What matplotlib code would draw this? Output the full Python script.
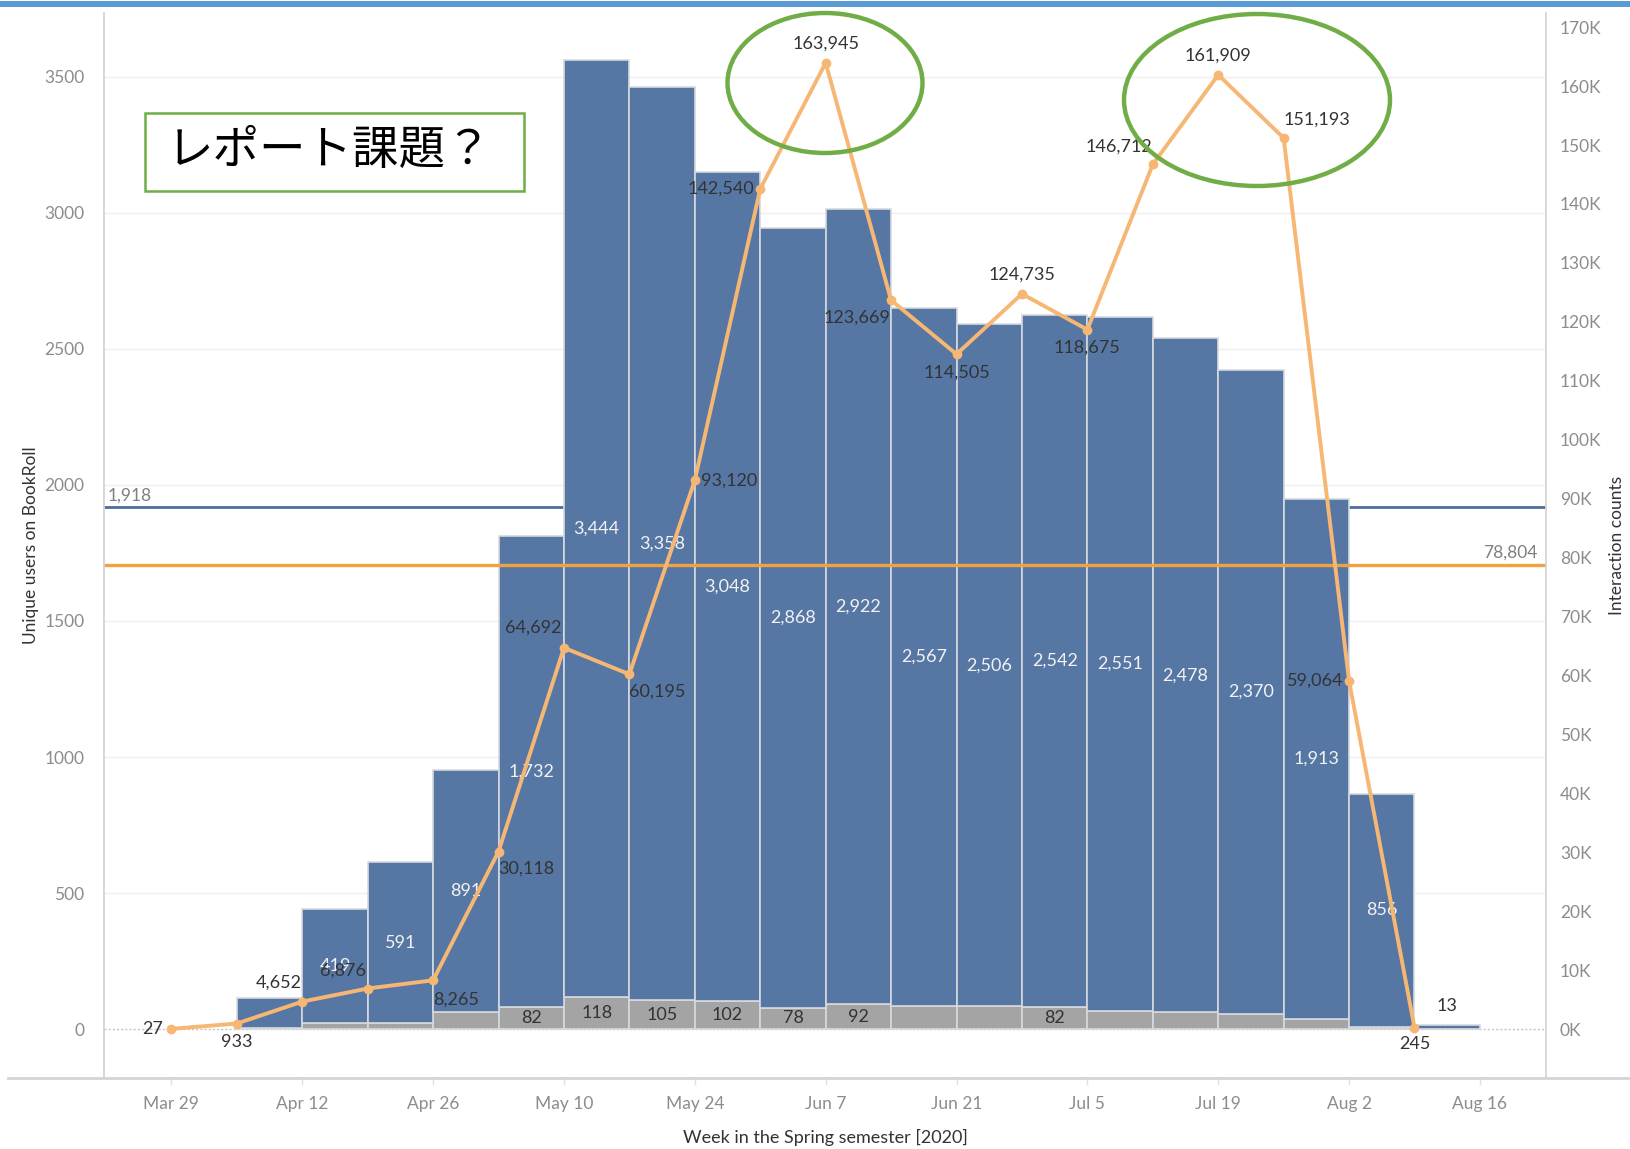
"""
BookRoll weekly usage, Spring 2020: unique users (stacked bars, left axis)
and interaction counts (line, right axis), Tableau-like look with
hand-drawn green highlights.
"""
import matplotlib
matplotlib.use("Agg")
import matplotlib.pyplot as plt
from matplotlib.patches import Ellipse, Rectangle
from matplotlib.ticker import FixedLocator, FuncFormatter
import numpy as np

plt.rcParams["font.family"] = ["Lato", "Noto Sans CJK JP", "DejaVu Sans"]

# ---- data -----------------------------------------------------------------
weeks = ["Mar 29", "Apr 5", "Apr 12", "Apr 19", "Apr 26", "May 3", "May 10",
         "May 17", "May 24", "May 31", "Jun 7", "Jun 14", "Jun 21", "Jun 28",
         "Jul 5", "Jul 12", "Jul 19", "Jul 26", "Aug 2", "Aug 9", "Aug 16"]

# interaction counts, Mar 29 .. Aug 9
interactions = [27, 933, 4652, 6876, 8265, 30118, 64692, 60195, 93120, 142540,
                163945, 123669, 114505, 124735, 118675, 146712, 161909,
                151193, 59064, 245]

# unique users, Apr 5 .. Aug 9 (blue = main segment, gray = lower segment)
users_blue = [109, 419, 591, 891, 1732, 3444, 3358, 3048, 2868, 2922, 2567,
              2506, 2542, 2551, 2478, 2370, 1913, 856, 13]
users_gray = [5, 22, 22, 61, 82, 118, 105, 102, 78, 92, 84, 84, 82, 66, 61,
              54, 37, 8, 0]

users_ref = 1918          # reference line, left axis
interactions_ref = 78804  # reference line, right axis
note_text = "レポート課題？"

# ---- style ------------------------------------------------------------------
BLUE = "#5677A4"
GRAY = "#A4A4A4"
EDGE = "#D6D9DE"
ORANGE_LINE = "#F6B774"
ORANGE_REF = "#F0A23E"
BLUE_REF = "#4C6E9E"
GREEN = "#70AD47"
TICK_C = "#8C8C8C"
TEXT_C = "#333333"
AXIS_C = "#D4D4D4"

W, H = 1630, 1149
fig = plt.figure(figsize=(W / 100, H / 100), dpi=100)

# plot area in pixels: x 104..1546, y 13..1078 (from top)
L, R, T, B = 104, 1546, 13, 1078
ax = fig.add_axes([L / W, 1 - B / H, (R - L) / W, (B - T) / H])
ax2 = ax.twinx()

ax.set_xlim(-1.03, 21.01)
ax.set_ylim(-180, 3735)
ax2.set_ylim(-8310, 172400)

for a in (ax, ax2):
    for s in a.spines.values():
        s.set_visible(False)

# gridlines + dotted zero line
for v in range(500, 3501, 500):
    ax.axhline(v, color="#EFEFEF", lw=1.0, zorder=0)
ax.axhline(0, color="#C4C4C4", lw=1.0, ls=(0, (1.5, 1.5)), zorder=0.5)

# blue reference line sits behind bars
ax.axhline(users_ref, color=BLUE_REF, lw=2.0, zorder=1)
ax.annotate(f"{users_ref:,}", xy=(0, users_ref), xycoords=("axes fraction", "data"),
            xytext=(4, 4), textcoords="offset pixels", ha="left", va="bottom",
            fontsize=12.5, color="#7F7F7F")

# stacked bars
bx = np.arange(1, 1 + len(users_blue))
blue = np.array(users_blue)
gray = np.array(users_gray)
ax.bar(bx, gray, width=1, align="edge", color=GRAY, edgecolor=EDGE,
       linewidth=1.2, zorder=2)
ax.bar(bx, blue, bottom=gray, width=1, align="edge", color=BLUE,
       edgecolor=EDGE, linewidth=1.2, zorder=2)

show_gray = {"May 3", "May 10", "May 17", "May 24", "May 31", "Jun 7", "Jun 28"}
for i, (b, g) in enumerate(zip(users_blue, users_gray)):
    wk = weeks[bx[i]]
    if b >= 300:
        ax.text(bx[i] + 0.5, g + b / 2, f"{b:,}", ha="center", va="center",
                fontsize=13, color="#F2F2F2", zorder=3)
    elif b < 50:
        ax.annotate(f"{b:,}", xy=(bx[i] + 0.5, g + b), xytext=(0, 19),
                    textcoords="offset pixels", ha="center", va="center",
                    fontsize=13, color=TEXT_C, zorder=3)
    if wk in show_gray:
        ax.text(bx[i] + 0.5, g / 2, f"{g:,}", ha="center", va="center",
                fontsize=13, color=TEXT_C, zorder=3)

# orange reference line + interaction line on right axis
ax2.axhline(interactions_ref, color=ORANGE_REF, lw=2.4, zorder=1)
ax2.annotate(f"{interactions_ref:,}", xy=(1, interactions_ref),
             xycoords=("axes fraction", "data"), xytext=(-8, 4),
             textcoords="offset pixels", ha="right", va="bottom",
             fontsize=12.5, color="#7F7F7F")

lx = np.arange(len(interactions))
ax2.plot(lx, interactions, color=ORANGE_LINE, lw=2.8, marker="o", ms=6,
         mec=ORANGE_LINE, mfc=ORANGE_LINE, zorder=3, solid_joinstyle="round")

# label offsets (pixels) for each point of the line
lab_off = [(-8, 0, "right"), (0, -18, "center"), (-23, 19, "center"),
           (-25, 18, "center"), (23, -19, "center"), (28, -17, "center"),
           (-31, 20, "center"), (28, -17, "center"), (6, 0, "left"),
           (-6, 0, "right"), (0, 19, "center"), (-34, -17, "center"),
           (0, -18, "center"), (0, 19, "center"), (0, -18, "center"),
           (-34, 18, "center"), (0, 19, "center"), (33, 18, "center"),
           (-6, 0, "right"), (0, -16, "center")]
for xi, v, (dx, dy, ha) in zip(lx, interactions, lab_off):
    ax2.annotate(f"{v:,}", xy=(xi, v), xytext=(dx, dy),
                 textcoords="offset pixels", ha=ha, va="center",
                 fontsize=13, color=TEXT_C, zorder=4)

# ticks
ax.xaxis.set_major_locator(FixedLocator(range(0, len(weeks), 2)))
ax.set_xticklabels(weeks[::2])
ax.tick_params(axis="x", length=5, width=1, color="#E0E0E0", pad=8,
               labelsize=12.5, labelcolor=TICK_C)
ax.set_yticks(range(0, 3501, 500))
ax.tick_params(axis="y", length=0, pad=14, labelsize=12.5, labelcolor=TICK_C)
ax2.set_yticks(range(0, 170001, 10000))
ax2.yaxis.set_major_formatter(FuncFormatter(lambda v, p: f"{int(v / 1000)}K"))
ax2.tick_params(axis="y", length=0, pad=10, labelsize=12.5, labelcolor=TICK_C)

# ---- overlay in pixel coordinates: frame lines, labels, highlights ------
ov = fig.add_axes([0, 0, 1, 1])
ov.set_xlim(0, W)
ov.set_ylim(H, 0)
ov.axis("off")

ov.add_patch(Rectangle((0, 1), W, 6, color="#5B9BD5", lw=0))
ov.plot([L, L], [T, B], color=AXIS_C, lw=1.3)
ov.plot([R, R], [T, B], color=AXIS_C, lw=1.3)
ov.plot([8, W], [B, B], color=AXIS_C, lw=2)

ov.text(31, (T + B) / 2, "Unique users on BookRoll", rotation=90,
        ha="center", va="center", fontsize=12.5, color=TEXT_C)
ov.text(1617, (T + B) / 2, "Interaction counts", rotation=90,
        ha="center", va="center", fontsize=12.5, color=TEXT_C)
ov.text((L + R) / 2, 1137, "Week in the Spring semester [2020]",
        ha="center", va="center", fontsize=13, color=TEXT_C)

ov.add_patch(Rectangle((145, 113), 379, 78, fill=False, edgecolor=GREEN, lw=1.8))
ov.text(329, 151, note_text, ha="center", va="center", fontsize=33.5,
        color="black", family=["Noto Sans CJK JP", "DejaVu Sans"])

ov.add_patch(Ellipse((825, 83), 195, 140, fill=False, edgecolor=GREEN, lw=3.2))
ov.add_patch(Ellipse((1257, 100), 266, 172, fill=False, edgecolor=GREEN, lw=3.2))

fig.savefig("out.png", dpi=100, facecolor="white")
